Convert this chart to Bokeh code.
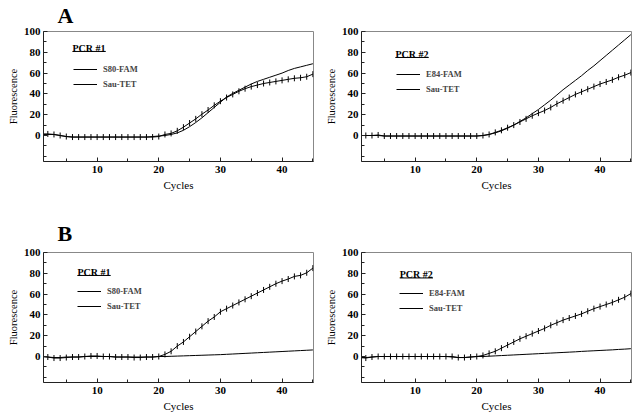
import math
from bokeh.plotting import figure
from bokeh.layouts import gridplot
from bokeh.models import Legend, LegendItem, FixedTicker, Range1d, Label
from bokeh.embed import file_html
from bokeh.resources import INLINE

cycles = list(range(1, 46))

a1_fam = [1.0, 1.0, 1.0, 0.0, -1.0] + [-1.5] * 13 + [-1.0, -0.5] + \
    [0.0, 1.0, 2.5, 5.0, 8.5, 12.5, 17.0, 22.0, 27.0, 32.0, 37.0, 40.5, 43.5,
     46.5, 49.5, 52.0, 54.0, 56.0, 58.0, 60.0, 62.5, 64.5, 66.0, 67.5, 69.0]
a1_tet = [1.5, 1.5, 1.0, 0.0, -1.0] + [-1.5] * 14 + [-1.0] + \
    [1.0, 2.0, 4.5, 8.0, 12.0, 16.0, 20.5, 24.5, 29.0, 33.0, 36.5, 39.5, 42.5,
     45.0, 47.0, 48.5, 50.0, 51.0, 52.0, 53.0, 54.0, 55.0, 55.5, 56.5, 59.0]

a2_fam = [0.0, 0.0, 0.0, 0.0] + [-0.5] * 16 + \
    [0.0, 1.0, 2.5, 4.5, 7.0, 10.0, 13.5, 17.0, 21.0, 25.0, 29.5, 34.0, 39.0,
     44.0, 48.5, 53.0, 57.5, 62.5, 67.0, 72.0, 77.0, 82.0, 87.0, 92.0, 97.0]
a2_tet = [0.0, 0.0, 0.0, 0.5] + [-0.5] * 16 + \
    [0.0, 1.0, 3.0, 5.0, 7.5, 10.0, 13.0, 16.0, 19.0, 21.5, 24.0, 27.0, 30.5,
     33.5, 36.5, 39.5, 42.0, 44.5, 47.0, 49.5, 51.5, 53.5, 56.0, 58.0, 60.5]

b1_fam = [0.0, -0.5, -1.0, -1.0, -0.5, -0.5, -0.5, 0.0, 0.0, 0.0, 0.0, 0.0,
          -0.5, -0.5, -0.5, -0.5, -0.5, -0.5, -0.5, 0.0] + \
    [0.0, 0.2, 0.4, 0.6, 0.8, 1.0, 1.2, 1.4, 1.6, 1.8, 2.1, 2.4, 2.7, 3.0,
     3.3, 3.6, 3.9, 4.2, 4.5, 4.8, 5.1, 5.4, 5.7, 6.0, 6.3]
b1_tet = [0.0, -0.5, -1.5, -1.5, -1.0, -0.5, -0.5, 0.0, 0.5, 0.5, 0.0, 0.0,
          -0.5, -0.5, -0.5, -1.0, -1.0, -0.5, -0.5, 0.0] + \
    [2.0, 5.0, 10.0, 14.0, 19.0, 24.0, 29.0, 34.0, 38.0, 43.0, 46.0, 49.0,
     52.0, 55.0, 58.0, 61.0, 64.0, 67.0, 70.0, 72.5, 74.5, 77.0, 78.0, 80.5, 85.0]

b2_fam = [-1.0, -1.0, -0.5] + [0.0] * 12 + [-0.5, -1.0, -1.0, -0.5, 0.0] + \
    [0.0, 0.3, 0.6, 0.9, 1.2, 1.5, 1.8, 2.1, 2.4, 2.7, 3.0, 3.3, 3.6, 3.9,
     4.2, 4.5, 4.9, 5.2, 5.5, 5.8, 6.1, 6.4, 6.8, 7.1, 7.5]
b2_tet = [-1.0, -1.5, -0.5] + [0.0] * 13 + [-1.0, -1.0, -0.5, 0.0] + \
    [1.0, 3.0, 5.0, 8.0, 11.0, 14.0, 17.0, 19.5, 22.0, 24.5, 27.0, 30.0, 32.5,
     35.0, 37.0, 39.0, 41.0, 43.5, 46.0, 48.0, 50.0, 52.0, 54.5, 57.0, 60.5]

x_major = [10, 20, 30, 40]
x_minor = [5, 15, 25, 35, 45]
y_major = [0, 20, 40, 60, 80, 100]
y_minor = [-20, -10, 10, 30, 50, 70, 90]

SERIF = "Liberation Serif"
FW, FH = 270, 130
XR = (1.3, 45.1)
YR = (-25, 100)


def panel(fam, tet, fam_label, pcr_label, letter, top, bottom, right,
          leg_loc, pcr_pos, letter_standoff):
    p = figure(frame_width=FW, frame_height=FH,
               x_range=Range1d(*XR), y_range=Range1d(*YR),
               output_backend="svg", toolbar_location=None,
               min_border_left=43, min_border_right=right,
               min_border_top=top, min_border_bottom=bottom)
    p.xgrid.visible = False
    p.ygrid.visible = False
    p.outline_line_color = "#888888"
    p.background_fill_color = "white"
    p.border_fill_color = "white"

    p.title.text = letter
    p.title.text_font = SERIF
    p.title.text_font_style = "bold"
    p.title.text_font_size = "22px"
    p.title.text_color = "black"
    p.title.align = "left"
    p.title.vertical_align = "top"
    p.title.offset = 14
    p.title.standoff = letter_standoff

    p.xaxis.ticker = FixedTicker(ticks=x_major, minor_ticks=x_minor)
    p.yaxis.ticker = FixedTicker(ticks=y_major, minor_ticks=y_minor)
    for ax in (p.xaxis[0], p.yaxis[0]):
        ax.major_tick_in = 4
        ax.major_tick_out = 0
        ax.minor_tick_in = 3
        ax.minor_tick_out = 0
        ax.axis_line_color = "#222222"
        ax.major_tick_line_color = "#222222"
        ax.minor_tick_line_color = "#222222"
        ax.major_label_text_font = SERIF
        ax.major_label_text_font_style = "bold"
        ax.major_label_text_font_size = "11px"
        ax.major_label_text_color = "black"
        ax.axis_label_text_font = SERIF
        ax.axis_label_text_font_style = "normal"
        ax.axis_label_text_color = "black"
    p.xaxis.axis_label = "Cycles"
    p.xaxis.axis_label_text_font_size = "11px"
    p.xaxis.major_label_standoff = 4
    p.xaxis.axis_label_standoff = 3
    p.yaxis.axis_label = "Fluorescence"
    p.yaxis.axis_label_text_font_size = "10.5px"
    p.yaxis.major_label_standoff = 3
    p.yaxis.axis_label_standoff = 2

    l1 = p.line(cycles, fam, line_color="black", line_width=1)
    l2 = p.line(cycles, tet, line_color="black", line_width=1)
    s2 = p.scatter(cycles, tet, marker="dash", angle=math.pi / 2, size=6,
                   line_color="black", line_width=1)
    # tick symbol shown only in the legend swatch
    s_leg = p.scatter(x=[], y=[], marker="cross", size=7,
                      line_color="black", line_width=1)

    leg = Legend(items=[LegendItem(label=fam_label, renderers=[l1]),
                        LegendItem(label="Sau-TET", renderers=[l2, s2, s_leg])],
                 location=leg_loc,
                 label_text_font=SERIF, label_text_font_style="bold",
                 label_text_font_size="8.5px",
                 glyph_width=24, glyph_height=12, label_height=12,
                 label_standoff=6, spacing=3, padding=0, margin=0,
                 border_line_color=None, background_fill_alpha=0)
    p.add_layout(leg)

    # "PCR #n" heading of the legend, underlined
    px, py = pcr_pos
    p.add_layout(Label(x=px, y=py, text=pcr_label, text_font=SERIF,
                       text_font_style="bold", text_font_size="10px",
                       text_baseline="alphabetic", text_align="left",
                       text_color="black"))
    uy = py - 3.0 / (FH / (YR[1] - YR[0]))
    p.segment(x0=[px], y0=[uy], x1=[px + 5.4], y1=[uy],
              line_color="black", line_width=1)
    return p


p1 = panel(a1_fam, a1_tet, "S80-FAM", "PCR #1", "A", 31, 39, 5,
           (30, 71), (6.0, 83.7), 4)
p2 = panel(a2_fam, a2_tet, "E84-FAM", "PCR #2", "", 31, 39, 5,
           (35, 66), (6.8, 77.9), 4)
p3 = panel(b1_fam, b1_tet, "S80-FAM", "PCR #1", "B", 52, 36, 5,
           (34, 70), (6.8, 80.8), 9)
p4 = panel(b2_fam, b2_tet, "E84-FAM", "PCR #2", "", 52, 36, 5,
           (38, 68), (7.5, 78.4), 9)

grid = gridplot([[p1, p2], [p3, p4]], toolbar_location=None)

open("out.html", "w").write(file_html(grid, INLINE))
